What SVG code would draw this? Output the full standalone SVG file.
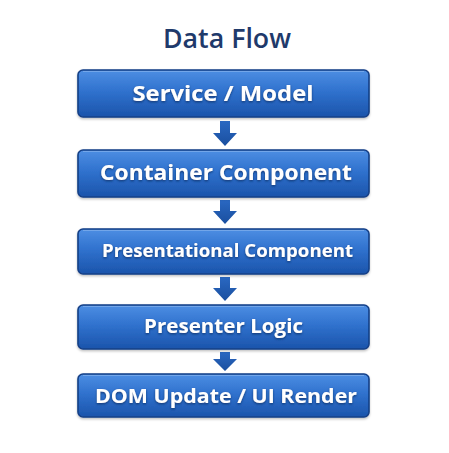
<svg xmlns="http://www.w3.org/2000/svg" width="449" height="453" viewBox="0 0 449 453">
<defs>
<linearGradient id="g" x1="0" y1="0" x2="0" y2="1">
<stop offset="0" stop-color="#4d8ee3"/>
<stop offset="0.45" stop-color="#3072ce"/>
<stop offset="1" stop-color="#1b54ab"/>
</linearGradient>
<linearGradient id="ag" x1="0" y1="0" x2="0" y2="1">
<stop offset="0" stop-color="#2a68c2"/>
<stop offset="1" stop-color="#1a4f9f"/>
</linearGradient>
<filter id="ts" x="-10%" y="-30%" width="120%" height="160%">
<feDropShadow dx="0" dy="1.2" stdDeviation="0.8" flood-color="#0b2a5e" flood-opacity="0.8"/>
</filter>
<filter id="bs" x="-5%" y="-20%" width="110%" height="150%">
<feDropShadow dx="0" dy="1.5" stdDeviation="1.2" flood-color="#000" flood-opacity="0.25"/>
</filter>
</defs>
<style>
.box{fill:url(#g);stroke:#143f86;stroke-width:1.6}
.hl{fill:none;stroke:#8db8ef;stroke-opacity:0.6;stroke-width:1}
.lbl{font-family:"Open Sans","Liberation Sans",sans-serif;font-weight:700;fill:#ffffff;text-anchor:middle;dominant-baseline:central}
.arr{fill:url(#ag)}
</style>
<rect width="449" height="453" fill="#ffffff"/>
<text x="227" y="37" font-family="Open Sans, Liberation Sans, sans-serif" font-weight="600" font-size="27" fill="#1f3a6b" text-anchor="middle" dominant-baseline="central" textLength="128" lengthAdjust="spacingAndGlyphs">Data Flow</text>

<g id="connectors">
<path class="arr" d="M220 121 H230 V133 H237 L225 146 L213 133 H220 Z"/>
<path class="arr" d="M220 200 H230 V211 H237 L225 224 L213 211 H220 Z"/>
<path class="arr" d="M220 277 H230 V288 H237 L225 301 L213 288 H220 Z"/>
<path class="arr" d="M220 352 H230 V359 H237 L225 371 L213 359 H220 Z"/>
</g>

<g id="node1" filter="url(#bs)">
<rect class="box" x="78" y="70" width="291" height="47" rx="5"/>
<path class="hl" d="M83 71.5 H364"/>
<text class="lbl" x="223" y="92" font-size="22" filter="url(#ts)" textLength="181" lengthAdjust="spacingAndGlyphs">Service / Model</text>
</g>
<g id="node2" filter="url(#bs)">
<rect class="box" x="78" y="150" width="291" height="47" rx="5"/>
<path class="hl" d="M83 151.5 H364"/>
<text class="lbl" x="226" y="172" font-size="21" filter="url(#ts)" textLength="252" lengthAdjust="spacingAndGlyphs">Container Component</text>
</g>
<g id="node3" filter="url(#bs)">
<rect class="box" x="78" y="229" width="291" height="45" rx="5"/>
<path class="hl" d="M83 230.5 H364"/>
<text class="lbl" x="227.5" y="250" font-size="18" filter="url(#ts)" textLength="251" lengthAdjust="spacingAndGlyphs">Presentational Component</text>
</g>
<g id="node4" filter="url(#bs)">
<rect class="box" x="78" y="305" width="291" height="44" rx="5"/>
<path class="hl" d="M83 306.5 H364"/>
<text class="lbl" x="223.5" y="326" font-size="19" filter="url(#ts)" textLength="159" lengthAdjust="spacingAndGlyphs">Presenter Logic</text>
</g>
<g id="node5" filter="url(#bs)">
<rect class="box" x="78" y="374" width="291" height="43" rx="5"/>
<path class="hl" d="M83 375.5 H364"/>
<text class="lbl" x="226" y="395" font-size="20" filter="url(#ts)" textLength="262" lengthAdjust="spacingAndGlyphs">DOM Update / UI Render</text>
</g>
</svg>
